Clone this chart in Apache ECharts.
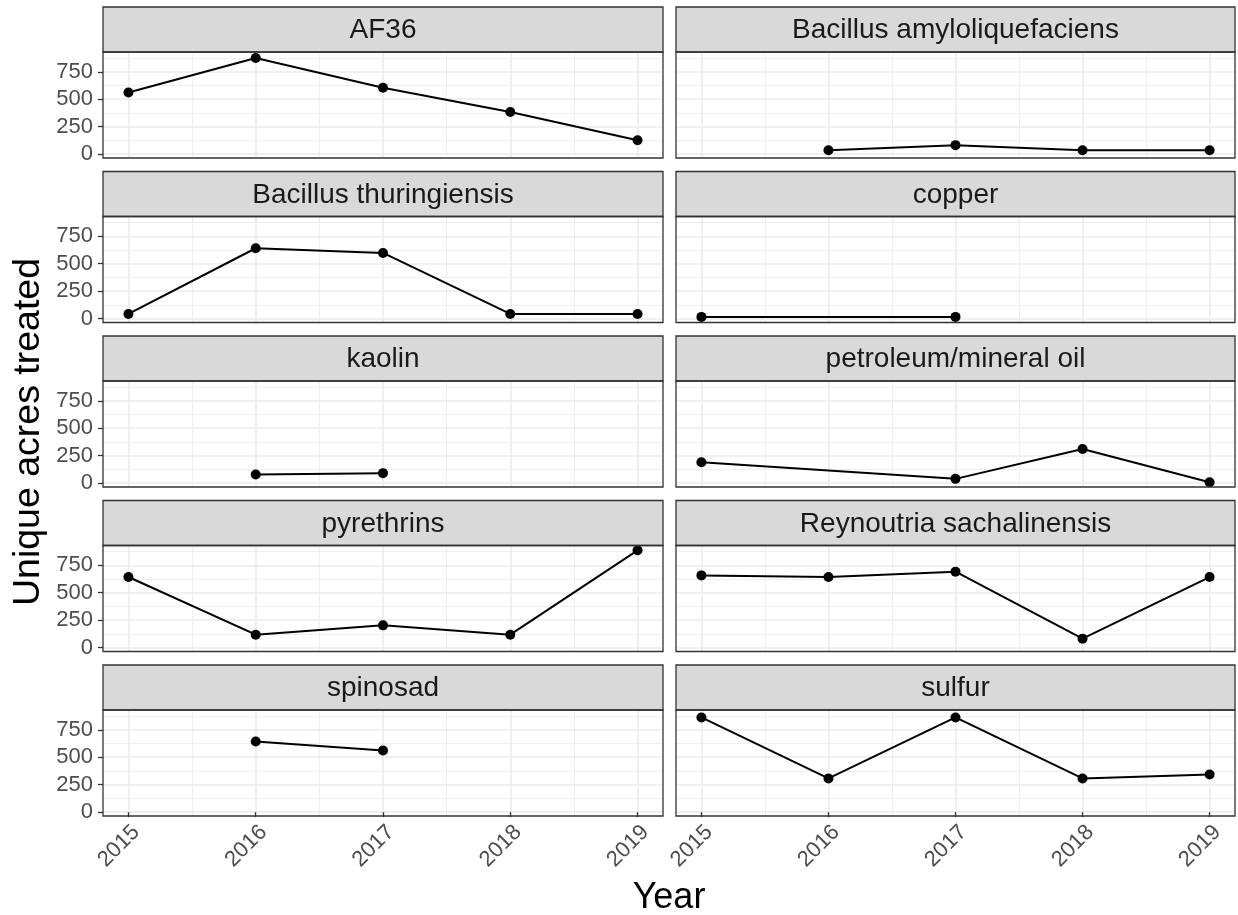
<!DOCTYPE html>
<html>
<head>
<meta charset="utf-8">
<script src="https://cdn.jsdelivr.net/npm/echarts@6/dist/echarts.min.js"></script>
<style>
html,body{margin:0;padding:0;background:#ffffff;}
#chart{width:1238px;height:915px;}
</style>
</head>
<body>
<div id="chart"></div>
<script>
// ---------- data ----------
const years = [2015, 2016, 2017, 2018, 2019];
const panelNames = [
  "AF36", "Bacillus amyloliquefaciens",
  "Bacillus thuringiensis", "copper",
  "kaolin", "petroleum/mineral oil",
  "pyrethrins", "Reynoutria sachalinensis",
  "spinosad", "sulfur"
];
const AF36 = [562, 876, 605, 384, 127];
const bacillusAmyloliquefaciens = [null, 36, 82, 36, 36];
const bacillusThuringiensis = [43, 641, 598, 43, 43];
const copper = [16, null, 16, null, null];
const kaolin = [null, 79, 91, null, null];
const petroleumMineralOil = [190, null, 39, 311, 9];
const pyrethrins = [643, 118, 203, 118, 886];
const reynoutriaSachalinensis = [658, 643, 692, 82, 643];
const spinosad = [null, 644, 562, null, null];
const sulfur = [862, 307, 862, 307, 343];

const yTickValues = [0, 250, 500, 750];
const yMinorValues = [125, 375, 625, 875];
const xMinorValues = [2015.5, 2016.5, 2017.5, 2018.5];

const panelValues = [
  AF36, bacillusAmyloliquefaciens,
  bacillusThuringiensis, copper,
  kaolin, petroleumMineralOil,
  pyrethrins, reynoutriaSachalinensis,
  spinosad, sulfur
];

// ---------- layout / style ----------
const FONT = '"Liberation Sans", Arial, sans-serif';
const xMin = 2014.8, xMax = 2019.2;
const yMin = -35, yMax = 930;
const colLeft = [103, 676];
const colWidth = [560, 559];
const stripTop0 = 7;
const rowStep = 164.5;
const stripH = 45;
const panelH = 106;

const grids = [], xAxes = [], yAxes = [], series = [], graphics = [];

panelNames.forEach(function (name, i) {
  const r = Math.floor(i / 2), c = i % 2;
  const left = colLeft[c], width = colWidth[c];
  const stripTop = stripTop0 + r * rowStep;
  const top = stripTop + stripH;
  const isBottom = r === 4, isLeft = c === 0;

  grids.push({ left: left, top: top, width: width, height: panelH, show: false });

  // major x axis
  xAxes.push({
    gridIndex: i, type: 'value', min: xMin, max: xMax, position: 'bottom',
    axisLine: { show: false },
    axisTick: { show: isBottom, customValues: years, length: 5, lineStyle: { color: '#333333', width: 1.3 } },
    axisLabel: {
      show: isBottom, customValues: years, rotate: 45, fontSize: 22, color: '#4d4d4d',
      fontFamily: FONT, margin: 5, verticalAlign: 'top',
      formatter: function (v) { return String(v); }
    },
    splitLine: { show: true, lineStyle: { color: '#ebebeb', width: 1.6 } }
  });
  // minor x axis (grid lines only)
  xAxes.push({
    gridIndex: i, type: 'value', min: xMin, max: xMax, position: 'bottom',
    axisLine: { show: false },
    axisTick: { show: false, customValues: xMinorValues },
    axisLabel: { show: false, customValues: xMinorValues },
    splitLine: { show: true, lineStyle: { color: '#ebebeb', width: 0.8 } }
  });
  // major y axis
  yAxes.push({
    gridIndex: i, type: 'value', min: yMin, max: yMax, position: 'left',
    axisLine: { show: false },
    axisTick: { show: isLeft, customValues: yTickValues, length: 5, lineStyle: { color: '#333333', width: 1.3 } },
    axisLabel: {
      show: isLeft, customValues: yTickValues, fontSize: 22, color: '#4d4d4d',
      fontFamily: FONT, margin: 10, formatter: function (v) { return String(v); }
    },
    splitLine: { show: true, lineStyle: { color: '#ebebeb', width: 1.6 } }
  });
  // minor y axis (grid lines only)
  yAxes.push({
    gridIndex: i, type: 'value', min: yMin, max: yMax, position: 'left',
    axisLine: { show: false },
    axisTick: { show: false, customValues: yMinorValues },
    axisLabel: { show: false, customValues: yMinorValues },
    splitLine: { show: true, lineStyle: { color: '#ebebeb', width: 0.8 } }
  });

  const vals = panelValues[i];
  const data = [];
  years.forEach(function (yr, k) { if (vals[k] !== null) data.push([yr, vals[k]]); });

  series.push({
    type: 'line', name: name,
    xAxisIndex: 2 * i, yAxisIndex: 2 * i,
    data: data,
    symbol: 'circle', symbolSize: 10, showSymbol: true,
    itemStyle: { color: '#000000' },
    lineStyle: { color: '#000000', width: 2 },
    clip: false, silent: true, z: 3
  });

  // strip
  graphics.push({
    type: 'rect', z: 50,
    shape: { x: left, y: stripTop, width: width, height: stripH },
    style: { fill: '#d9d9d9', stroke: '#333333', lineWidth: 1.3 }
  });
  graphics.push({
    type: 'text', z: 51, x: left + width / 2, y: stripTop + stripH / 2 + 1,
    style: {
      text: name, fill: '#1a1a1a', fontSize: 28, fontFamily: FONT,
      align: 'center', verticalAlign: 'middle'
    }
  });
  // panel border
  graphics.push({
    type: 'rect', z: 50,
    shape: { x: left, y: top, width: width, height: panelH },
    style: { fill: 'none', stroke: '#333333', lineWidth: 1.3 }
  });
});

// axis titles
graphics.push({
  type: 'text', z: 51, x: 29, y: 432, rotation: Math.PI / 2,
  style: {
    text: 'Unique acres treated', fill: '#000000', fontSize: 37.5, fontFamily: FONT,
    align: 'center', verticalAlign: 'middle'
  }
});
graphics.push({
  type: 'text', z: 51, x: 669, y: 898,
  style: {
    text: 'Year', fill: '#000000', fontSize: 36, fontFamily: FONT,
    align: 'center', verticalAlign: 'middle'
  }
});

const chart = echarts.init(document.getElementById('chart'), null, { renderer: 'canvas' });
chart.setOption({
  animation: false,
  backgroundColor: '#ffffff',
  grid: grids,
  xAxis: xAxes,
  yAxis: yAxes,
  series: series,
  graphic: graphics
});
</script>
</body>
</html>
